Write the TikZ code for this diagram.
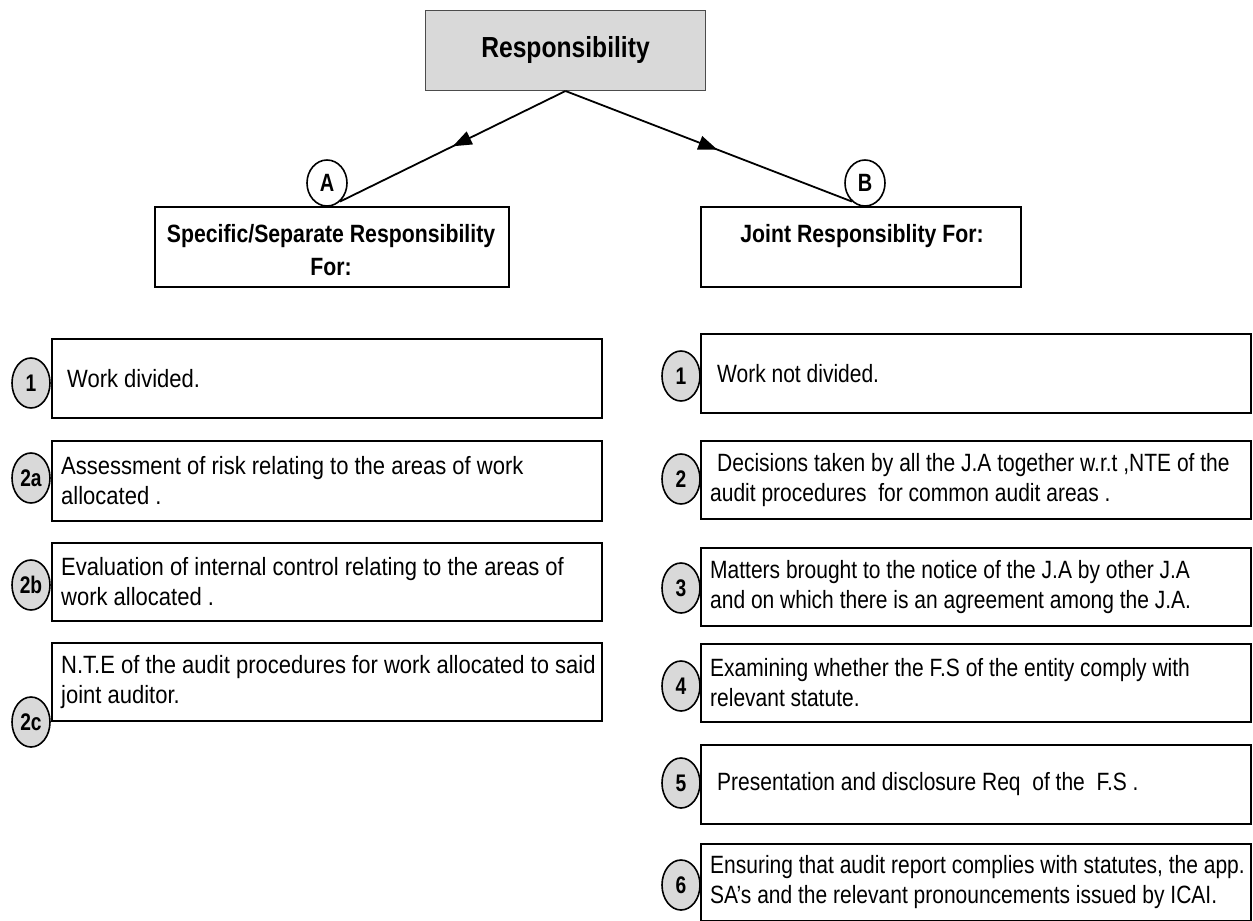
\documentclass[tikz,border=0pt]{standalone}
\usepackage{fontspec}
\setmainfont{Liberation Sans}[FakeStretch=0.82]
\newfontfamily\leftfont{Liberation Sans}[FakeStretch=0.88]
\newfontfamily\rightfont{Liberation Sans}[FakeStretch=0.84]
\newfontfamily\hdrfont{Liberation Sans}[FakeStretch=0.85]
\newfontfamily\numfont{Liberation Sans}[FakeStretch=0.8]
\usetikzlibrary{shapes.geometric,arrows.meta,decorations.markings}
\definecolor{boxgray}{RGB}{217,217,217}
\begin{document}
\begin{tikzpicture}[x=1pt,y=-1pt,
  itembox/.style={draw=black, line width=2pt, anchor=north west, minimum width=550pt, inner sep=0pt},
  ltxt/.style={anchor=west, inner sep=0pt, align=left, font=\leftfont\fontsize{25}{30}\selectfont},
  rtxt/.style={anchor=west, inner sep=0pt, align=left, font=\rightfont\fontsize{25}{30}\selectfont},
  hdrbox/.style={draw=black, line width=2pt, anchor=north west, inner sep=0pt},
  hdrtext/.style={anchor=north, inner sep=0pt, align=center, font=\hdrfont\bfseries\fontsize{25}{33}\selectfont},
  numc/.style={ellipse, draw=black, line width=1.6pt, fill=boxgray, minimum width=38pt,
    minimum height=50pt, inner sep=0pt, font=\numfont\bfseries\fontsize{24}{24}\selectfont},
  letc/.style={ellipse, draw=black, line width=1.6pt, fill=white, minimum width=40pt,
    minimum height=46pt, inner sep=0pt, font=\numfont\bfseries\fontsize{25}{25}\selectfont},
  conn/.style={line width=1.8pt, decoration={markings,
    mark=at position #1 with {\arrow{Triangle[length=19pt,width=14pt]}}}, postaction={decorate}},
]
\useasboundingbox (0,0) rectangle (1253,921);

% top box
\node[draw=black!70, line width=1pt, fill=boxgray, anchor=north west, minimum width=280pt,
  minimum height=80pt, inner sep=0pt, font=\hdrfont\bfseries\fontsize{29}{29}\selectfont]
  (resp) at (425,10) {Responsibility};

% section headers
\node[hdrbox, minimum width=354pt, minimum height=80pt] (lh) at (154,206) {};
\node[hdrtext] (lht) at (331,224) {Specific/Separate Responsibility\\For:};
\node[hdrbox, minimum width=320pt, minimum height=80pt] (rh) at (700,206) {};
\node[hdrtext] (rht) at (862,224) {Joint Responsiblity For:};

\node[letc] (A) at (327,183) {A};
\node[letc] (B) at (865,183) {B};

\draw[conn=0.5] (resp.south) -- (A.-55);
\draw[conn=0.53] (resp.south) -- (B.-125);

% left items
\node[itembox, minimum height=79pt] (L1) at (51,338) {};
\node[itembox, minimum height=80pt] (L2a) at (51,440) {};
\node[itembox, minimum height=78pt] (L2b) at (51,542) {};
\node[itembox, minimum height=78pt] (L2c) at (51,642) {};
\node[ltxt] (L1t) at ([xshift=16pt]L1.west) {Work divided.};
\node[ltxt] (L2at) at ([xshift=10pt]L2a.west) {Assessment of risk relating to the areas of work\\allocated .};
\node[ltxt] (L2bt) at ([xshift=10pt]L2b.west) {Evaluation of internal control relating to the areas of\\work allocated .};
\node[ltxt] (L2ct) at ([xshift=10pt]L2c.west) {N.T.E of the audit procedures for work allocated to said\\joint auditor.};

\node[numc] (cl1) at (31,383) {1};
\node[numc] (cl2a) at (31,478) {2a};
\node[numc] (cl2b) at (31,585) {2b};
\node[numc] (cl2c) at (31,722) {2c};

% right items
\node[itembox, minimum height=79pt] (R1) at (700,333) {};
\node[itembox, minimum height=78pt] (R2) at (700,440) {};
\node[itembox, minimum height=78pt] (R3) at (700,547) {};
\node[itembox, minimum height=78pt] (R4) at (700,643) {};
\node[itembox, minimum height=79pt] (R5) at (700,744) {};
\node[itembox, minimum height=77pt] (R6) at (700,843) {};
\node[rtxt] (R1t) at ([xshift=17pt]R1.west) {Work not divided.};
\node[rtxt] (R2t) at ([xshift=10pt]R2.west) {\hspace*{7pt}Decisions taken by all the J.A together w.r.t ,NTE of the\\audit procedures\ \ for common audit areas .};
\node[rtxt] (R3t) at ([xshift=10pt]R3.west) {Matters brought to the notice of the J.A by other J.A\\and on which there is an agreement among the J.A.};
\node[rtxt] (R4t) at ([xshift=10pt]R4.west) {Examining whether the F.S of the entity comply with\\relevant statute.};
\node[rtxt] (R5t) at ([xshift=17pt]R5.west) {Presentation and disclosure Req\ \ of the\ \ F.S .};
\node[rtxt] (R6t) at ([xshift=10pt]R6.west) {Ensuring that audit report complies with statutes, the app.\\SA’s and the relevant pronouncements issued by ICAI.};

\node[numc] (cr1) at (681,376) {1};
\node[numc] (cr2) at (681,479) {2};
\node[numc] (cr3) at (681,588) {3};
\node[numc] (cr4) at (681,686) {4};
\node[numc] (cr5) at (681,783) {5};
\node[numc] (cr6) at (681,885) {6};
\end{tikzpicture}
\end{document}
